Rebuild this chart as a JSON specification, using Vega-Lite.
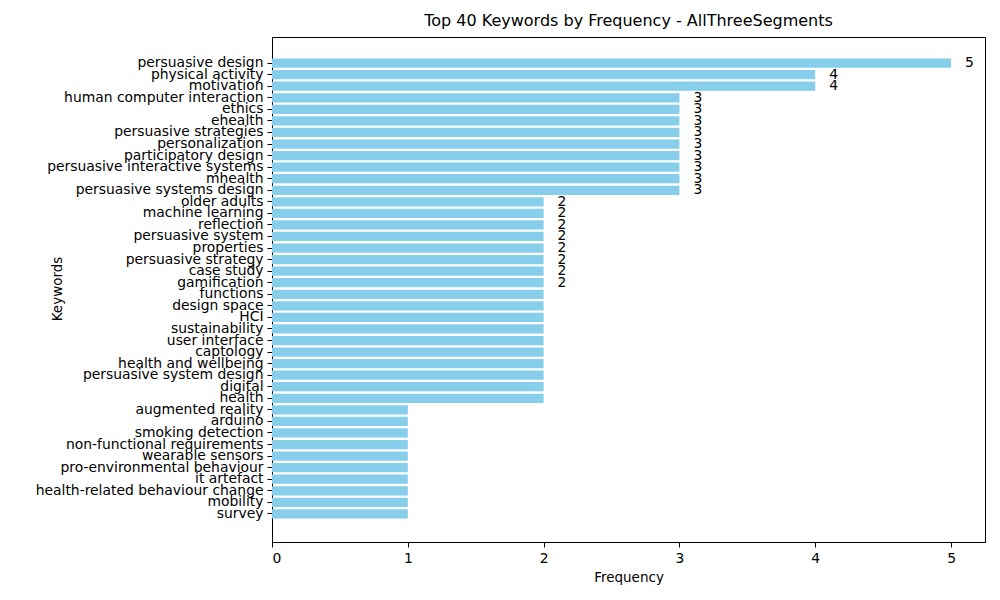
{
"$schema":"https://vega.github.io/schema/vega-lite/v6.json",
"width":713,"height":505,
"autosize":{"type":"none"},
"padding":{"left":272,"top":37,"right":15,"bottom":58},
"background":"white",
"config":{"view":{"stroke":"black","strokeWidth":1},"font":"DejaVu Sans"},
"title":{"text":"Top 40 Keywords by Frequency - AllThreeSegments","fontSize":16,"fontWeight":"normal","font":"DejaVu Sans","color":"black","offset":8},
"data":{"values":[
{"k":"persuasive design","f":5,"label":"5"},
{"k":"physical activity","f":4,"label":"4"},
{"k":"motivation","f":4,"label":"4"},
{"k":"human computer interaction","f":3,"label":"3"},
{"k":"ethics","f":3,"label":"3"},
{"k":"ehealth","f":3,"label":"3"},
{"k":"persuasive strategies","f":3,"label":"3"},
{"k":"personalization","f":3,"label":"3"},
{"k":"participatory design","f":3,"label":"3"},
{"k":"persuasive interactive systems","f":3,"label":"3"},
{"k":"mhealth","f":3,"label":"3"},
{"k":"persuasive systems design","f":3,"label":"3"},
{"k":"older adults","f":2,"label":"2"},
{"k":"machine learning","f":2,"label":"2"},
{"k":"reflection","f":2,"label":"2"},
{"k":"persuasive system","f":2,"label":"2"},
{"k":"properties","f":2,"label":"2"},
{"k":"persuasive strategy","f":2,"label":"2"},
{"k":"case study","f":2,"label":"2"},
{"k":"gamification","f":2,"label":"2"},
{"k":"functions","f":2,"label":null},
{"k":"design space","f":2,"label":null},
{"k":"HCI","f":2,"label":null},
{"k":"sustainability","f":2,"label":null},
{"k":"user interface","f":2,"label":null},
{"k":"captology","f":2,"label":null},
{"k":"health and wellbeing","f":2,"label":null},
{"k":"persuasive system design","f":2,"label":null},
{"k":"digital","f":2,"label":null},
{"k":"health","f":2,"label":null},
{"k":"augmented reality","f":1,"label":null},
{"k":"arduino","f":1,"label":null},
{"k":"smoking detection","f":1,"label":null},
{"k":"non-functional requirements","f":1,"label":null},
{"k":"wearable sensors","f":1,"label":null},
{"k":"pro-environmental behaviour","f":1,"label":null},
{"k":"it artefact","f":1,"label":null},
{"k":"health-related behaviour change","f":1,"label":null},
{"k":"mobility","f":1,"label":null},
{"k":"survey","f":1,"label":null}
]},
"encoding":{
"y":{"field":"k","type":"nominal","sort":null,"scale":{"paddingInner":0.2,"paddingOuter":0,"range":[21.5,481.5]},
 "axis":{"title":"Keywords","titleFontSize":13.5,"titleFontWeight":"normal","titleColor":"black","labelFontSize":13.9,"labelColor":"black","tickColor":"black","domain":true,"domainColor":"black","tickSize":5,"labelPadding":4,"titlePadding":8,"labelLimit":300}},
"x":{"field":"f","type":"quantitative","scale":{"domain":[0,5.25],"nice":false},
 "axis":{"title":"Frequency","values":[0,1,2,3,4,5],"format":"d","grid":false,"titleFontSize":13.5,"titleFontWeight":"normal","titleColor":"black","labelFontSize":13.9,"labelColor":"black","tickColor":"black","domain":true,"domainColor":"black","tickSize":5,"labelPadding":4,"titlePadding":6}}
},
"layer":[
{"mark":{"type":"bar","color":"#87ceeb"}},
{"transform":[{"filter":"datum.label != null"}],
 "mark":{"type":"text","align":"left","dx":14,"fontSize":13.9,"color":"black"},
 "encoding":{"text":{"field":"label"}}}
]
}
